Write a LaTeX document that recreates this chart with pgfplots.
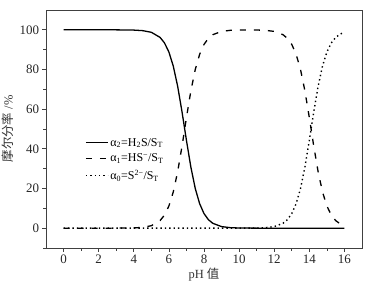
\documentclass[border=0pt]{standalone}
\usepackage{fontspec}
\setmainfont{Liberation Serif}
\newfontfamily\cjk{Noto Sans CJK SC}
\usepackage{pgfplots}
\pgfplotsset{compat=1.18}

% H2S speciation (pKa1 ~ 6.9, pKa2 ~ 14.1)
\pgfplotstableread{
pH    a2
0     100
1     100
2     100
3     99.99
4     99.87
4.5   99.60
5     98.76
5.5   96.17
5.75  93.39
6     88.82
6.25  81.71
6.5   71.53
6.75  58.55
7     44.27
7.25  30.88
7.5   20.08
7.75  12.38
8     7.36
8.25  4.28
8.5   2.45
9     0.79
9.5   0.25
10    0.08
11    0.01
12    0
13    0
14    0
15    0
16    0
}\tabHtwoS
\pgfplotstableread{
pH    a1
0     0
1     0
2     0
3     0.01
4     0.13
4.5   0.40
5     1.24
5.5   3.83
5.75  6.61
6     11.18
6.25  18.29
6.5   28.47
6.75  41.45
7     55.73
7.25  69.12
7.5   79.92
7.75  87.62
8     92.64
8.25  95.72
8.5   97.55
9     99.21
9.5   99.75
10    99.92
11    99.91
11.5  99.75
12    99.21
12.5  97.55
12.75 95.72
13    92.64
13.25 87.62
13.5  79.92
13.75 69.12
14    55.73
14.25 41.45
14.5  28.47
14.75 18.29
15    11.18
15.25 6.61
15.5  3.83
15.75 2.19
16    1.24
}\tabHS
\pgfplotstableread{
pH    a0
0     0
2     0
4     0
6     0
8     0
10    0
11    0.08
11.5  0.25
12    0.79
12.5  2.45
12.75 4.28
13    7.36
13.25 12.38
13.5  20.08
13.75 30.88
14    44.27
14.25 58.55
14.5  71.53
14.75 81.71
15    88.82
15.25 93.39
15.5  96.17
15.75 97.81
16    98.76
}\tabS

\begin{document}
\begin{tikzpicture}
\useasboundingbox (-46bp,-48bp) rectangle (332bp,248bp);
\begin{axis}[
    at={(0,0)}, anchor=south west,
    scale only axis, width=316bp, height=238bp,
    xmin=-1, xmax=17, ymin=-10, ymax=110,
    xtick={0,2,...,16}, minor xtick={1,3,...,15},
    ytick={0,20,...,100}, minor ytick={-10,10,30,50,70,90},
    xtick pos=left, ytick pos=left, tick align=outside,
    major tick length=3.5bp, minor tick length=2.5bp,
    axis line style={black!75, line width=0.8pt},
    tick style={black!75, line width=0.7pt},
    /pgf/number format/assume math mode=true,
    tick label style={font=\fontsize{13}{15}\selectfont, text=black!85},
    xlabel={pH {\cjk 值}},
    ylabel={{\cjk 摩尔分率} /\%},
    label style={font=\fontsize{12.5}{14}\selectfont, text=black!80},
    xlabel style={yshift=3bp},
    ylabel style={yshift=-1bp},
    legend cell align=left,
    legend image code/.code={\draw[#1, line width=1.3pt] (0bp,0bp) -- (22bp,0bp);},
    legend style={font=\fontsize{12}{14}\selectfont, draw=none, fill=none,
                  at={(0.12,0.475)}, anchor=north west, row sep=2.5bp,
                  inner sep=1bp},
]
\addplot[black, line width=1.3pt] table[x=pH, y=a2] {\tabHtwoS};
\addlegendentry{α\textsubscript{2}=H\textsubscript{2}S/S\textsubscript{T}}
\addplot[black, line width=1.3pt, dash pattern=on 6bp off 8bp] table[x=pH, y=a1] {\tabHS};
\addlegendentry{α\textsubscript{1}=HS\textsuperscript{−}/S\textsubscript{T}}
\addplot[black, line width=1.4pt, dash pattern=on 1.4bp off 3bp] table[x=pH, y=a0] {\tabS};
\addlegendentry{α\textsubscript{0}=S\textsuperscript{2−}/S\textsubscript{T}}
\end{axis}
\end{tikzpicture}
\end{document}
